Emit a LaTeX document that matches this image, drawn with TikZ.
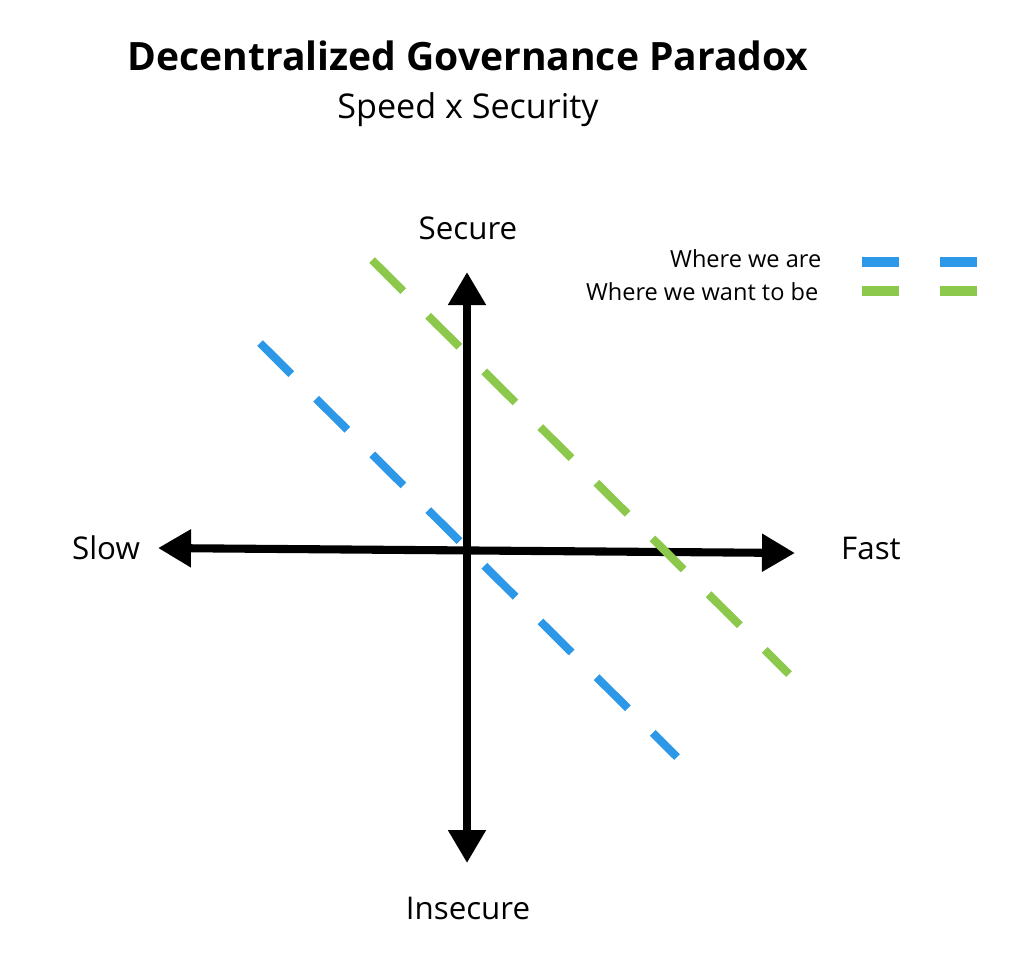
\documentclass[tikz,border=0pt]{standalone}
\usepackage{fontspec}
\setmainfont{Open Sans}
\usetikzlibrary{arrows.meta}
\usetikzlibrary{positioning}
\definecolor{nowblue}{RGB}{45,152,232}
\definecolor{goalgreen}{RGB}{140,200,75}

\begin{document}
\begin{tikzpicture}[x=0.01cm, y=-0.01cm,
    axis/.style={line width=2.3pt, {Triangle[length=0.33cm,width=0.36cm]}-{Triangle[length=0.33cm,width=0.36cm]}},
    trend/.style={line width=2.3pt, dash pattern=on 0.44cm off 0.35cm},
    legdash/.style={line width=2.6pt, dash pattern=on 0.37cm off 0.41cm},
    axlabel/.style={font=\fontsize{8.9}{10}\selectfont},
    legtext/.style={font=\fontsize{6.7}{8}\selectfont, anchor=east, inner sep=0pt}]
            \useasboundingbox (0,0) rectangle (1024,956);
            % titles
            \node[font=\fontsize{11.1}{13}\selectfont\bfseries] (title) at (468,56) {Decentralized Governance Paradox};
            \node[font=\fontsize{9.7}{11}\selectfont] (subtitle) at (468,110) {Speed x Security};
            
            % axes
            \coordinate (top) at (467,272);
            \coordinate (bottom) at (467,863);
            \coordinate (left) at (158,548);
            \coordinate (right) at (795,553);
            \draw[axis] (bottom) -- (top);
            \draw[axis] (left) -- (right);
            \node[axlabel] (secure) at (468,228) {Secure};
            \node[axlabel] (insecure) at (468,908) {Insecure};
            \node[axlabel] (slow) at (106,548) {Slow};
            \node[axlabel] (fast) at (871,548) {Fast};
            
            % trend lines
            \coordinate (now start) at (260,343);
            \coordinate (now end) at (677,757);
            \coordinate (goal start) at (372,260);
            \coordinate (goal end) at (789,674);
            \draw[trend, nowblue] (now start) -- (now end);
            \draw[trend, goalgreen] (goal start) -- (goal end);
            
            % legend
            \node[legtext] (nowtext) at (822,259) {Where we are};
            \node[legtext] (goaltext) at (819,292) {Where we want to be};
            \coordinate (nowkey a) at (862,262);
            \coordinate (nowkey b) at (977,262);
            \coordinate (goalkey a) at (862,291);
            \coordinate (goalkey b) at (977,291);
            \draw[legdash, nowblue] (nowkey a) -- (nowkey b);
            \draw[legdash, goalgreen] (goalkey a) -- (goalkey b);
        \end{tikzpicture}
\end{document}
